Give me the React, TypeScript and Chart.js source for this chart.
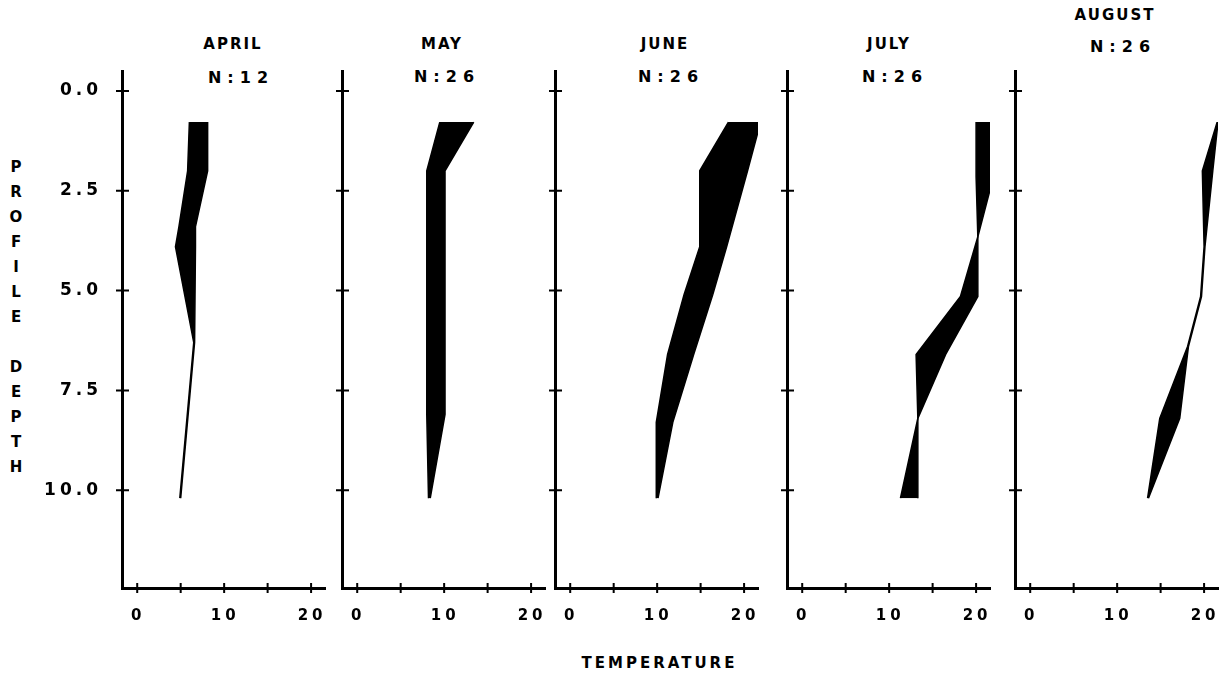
import React, { useEffect, useRef } from 'react';
import { Chart, registerables } from 'chart.js';

Chart.register(...registerables);

// ---- data -------------------------------------------------------------
const months = ['APRIL', 'MAY', 'JUNE', 'JULY', 'AUGUST'];
const sampleCounts = [12, 26, 26, 26, 26];

const depthTicks = [0, 2.5, 5, 7.5, 10];
const temperatureTicks = [0, 5, 10, 15, 20];
const temperatureLabels = [0, 10, 20];

// Each month: sampled depths and the two bounding temperature profiles.
const aprilDepth = [0.78, 2.0, 3.4, 3.9, 6.3, 10.2];
const aprilProfileA = [6.0, 5.8, 4.8, 4.4, 6.5, 4.9];
const aprilProfileB = [8.1, 8.1, 6.7, 6.7, 6.6, 5.0];

const mayDepth = [0.78, 2.0, 8.1, 10.2];
const mayProfileA = [9.5, 8.0, 8.0, 8.2];
const mayProfileB = [13.4, 10.1, 10.1, 8.4];

const juneDepth = [0.78, 2.0, 3.9, 5.1, 6.6, 8.3, 10.2];
const juneProfileA = [18.2, 14.9, 14.9, 13.1, 11.2, 9.9, 9.9];
const juneProfileB = [21.9, 20.4, 18.0, 16.4, 14.2, 11.8, 10.1];

const julyDepth = [0.78, 2.15, 3.65, 5.15, 6.6, 8.2, 10.2];
const julyProfileA = [20.0, 20.0, 20.2, 20.2, 16.5, 13.3, 11.3];
const julyProfileB = [22.0, 22.0, 20.2, 18.2, 13.1, 13.3, 13.3];

const augustDepth = [0.78, 2.0, 3.9, 5.15, 6.4, 8.2, 10.2];
const augustProfileA = [21.5, 19.8, 20.0, 19.6, 18.1, 14.9, 13.5];
const augustProfileB = [21.6, 21.0, 20.1, 19.7, 18.2, 17.2, 13.6];

const depths = [aprilDepth, mayDepth, juneDepth, julyDepth, augustDepth];
const profilesA = [aprilProfileA, mayProfileA, juneProfileA, julyProfileA, augustProfileA];
const profilesB = [aprilProfileB, mayProfileB, juneProfileB, julyProfileB, augustProfileB];

// ---- layout -----------------------------------------------------------
const axisLeft = [122, 342, 555, 787, 1015];
const plotWidth = 203;
const plotTop = 71;
const plotBottom = 588;
const topPad = 12;
const bottomBand = 44;
const rightPad = 10;

const titleX = [232, 441, 664, 888, 1114];
const titleY = [44, 44, 44, 44, 15];
const countX = [238, 444, 668, 892, 1120];
const countY = [78, 77, 77, 77, 47];

const FONT = '"DejaVu Sans", sans-serif';

// "+" shaped tick marks straddling both axes
const axisCrosses = {
  id: 'axisCrosses',
  afterDraw(chart: any) {
    const { ctx, chartArea, scales } = chart;
    ctx.save();
    ctx.strokeStyle = '#000';
    ctx.lineWidth = 2;
    ctx.beginPath();
    for (const t of scales.y.ticks) {
      const py = scales.y.getPixelForValue(t.value);
      ctx.moveTo(chartArea.left - 6, py);
      ctx.lineTo(chartArea.left + 7, py);
    }
    for (const t of scales.x.ticks) {
      const px = scales.x.getPixelForValue(t.value);
      ctx.moveTo(px, chartArea.bottom - 5);
      ctx.lineTo(px, chartArea.bottom + 5);
    }
    ctx.stroke();
    ctx.restore();
  },
};

// wide plotter-style lettering for the tick labels
const spacedLabels = {
  id: 'spacedLabels',
  beforeDraw(chart: any) {
    chart.ctx.letterSpacing = '4px';
  },
};

function Panel({ index }: { index: number }) {
  const ref = useRef<HTMLCanvasElement>(null);
  const withLabels = index === 0;
  const leftW = withLabels ? 92 : 12;
  const width = leftW + plotWidth + rightPad;
  const height = topPad + (plotBottom - plotTop) + bottomBand;

  useEffect(() => {
    if (!ref.current) return;
    const depth = depths[index];
    const a = profilesA[index];
    const b = profilesB[index];
    const lineStyle = {
      borderColor: '#000',
      backgroundColor: '#000',
      borderWidth: 1.5,
      pointRadius: 0,
      tension: 0,
    };
    const chart = new Chart(ref.current, {
      type: 'line',
      data: {
        datasets: [
          { ...lineStyle, data: depth.map((d, i) => ({ x: a[i], y: d })), fill: '+1' },
          { ...lineStyle, data: depth.map((d, i) => ({ x: b[i], y: d })), fill: false },
        ],
      },
      options: {
        indexAxis: 'y',
        animation: false,
        responsive: false,
        events: [],
        layout: { padding: { top: topPad, right: rightPad, left: 0, bottom: 0 } },
        plugins: { legend: { display: false }, tooltip: { enabled: false }, title: { display: false } },
        scales: {
          x: {
            type: 'linear',
            position: 'bottom',
            min: -1.75,
            max: 21.6,
            grid: { display: false, drawTicks: false },
            border: { display: true, color: '#000', width: 3 },
            ticks: {
              color: '#000',
              padding: 19,
              labelOffset: 1,
              font: { family: FONT, size: 15, weight: 'bold' },
              callback: (v: any) => (temperatureLabels.includes(Number(v)) ? String(v) : ''),
            },
            afterBuildTicks: (scale: any) => {
              scale.ticks = temperatureTicks.map((v) => ({ value: v }));
            },
            afterFit: (scale: any) => {
              scale.height = bottomBand;
              scale.paddingLeft = 0;
              scale.paddingRight = 0;
            },
          },
          y: {
            type: 'linear',
            position: 'left',
            reverse: true,
            min: -0.5,
            max: 12.45,
            grid: { display: false, drawTicks: false },
            border: { display: true, color: '#000', width: 3 },
            ticks: {
              display: withLabels,
              color: '#000',
              padding: 20,
              font: { family: FONT, size: 17, weight: 'bold' },
              callback: (v: any) => Number(v).toFixed(1),
            },
            afterBuildTicks: (scale: any) => {
              scale.ticks = depthTicks.map((v) => ({ value: v }));
            },
            afterFit: (scale: any) => {
              scale.width = leftW;
              scale.paddingTop = 0;
              scale.paddingBottom = 0;
            },
          },
        },
      } as any,
      plugins: [axisCrosses, spacedLabels],
    });
    return () => chart.destroy();
  }, [index]);

  return (
    <canvas
      ref={ref}
      width={width}
      height={height}
      style={{ position: 'absolute', left: axisLeft[index] - leftW, top: plotTop - topPad }}
    />
  );
}

function Label({ x, y, text, size, spacing }: { x: number; y: number; text: string; size: number; spacing: number }) {
  return (
    <div
      style={{
        position: 'absolute',
        left: x,
        top: y,
        transform: 'translate(-50%, -50%)',
        font: `bold ${size}px ${FONT}`,
        letterSpacing: spacing,
        paddingLeft: spacing,
        lineHeight: 1,
        whiteSpace: 'nowrap',
        color: '#000',
      }}
    >
      {text}
    </div>
  );
}

export default function App() {
  const axisTitle = 'PROFILE DEPTH';
  return (
    <div
      style={{
        position: 'absolute',
        left: 0,
        top: 0,
        width: 1227,
        height: 678,
        background: '#fff',
        overflow: 'hidden',
      }}
    >
      {months.map((m, i) => (
        <Label key={'t' + m} x={titleX[i]} y={titleY[i]} text={m} size={15} spacing={2} />
      ))}
      {sampleCounts.map((n, i) => (
        <Label key={'n' + i} x={countX[i]} y={countY[i]} text={`N:${n}`} size={16} spacing={6} />
      ))}
      {months.map((m, i) => (
        <Panel key={m} index={i} />
      ))}
      <div
        style={{
          position: 'absolute',
          left: 4,
          top: 155,
          width: 24,
          textAlign: 'center',
          font: `bold 15px ${FONT}`,
          lineHeight: '25px',
          color: '#000',
        }}
      >
        {axisTitle.split('').map((ch, i) => (
          <div key={i}>{ch === ' ' ? '\u00a0' : ch}</div>
        ))}
      </div>
      <Label x={658} y={663} text="TEMPERATURE" size={15} spacing={3} />
    </div>
  );
}
